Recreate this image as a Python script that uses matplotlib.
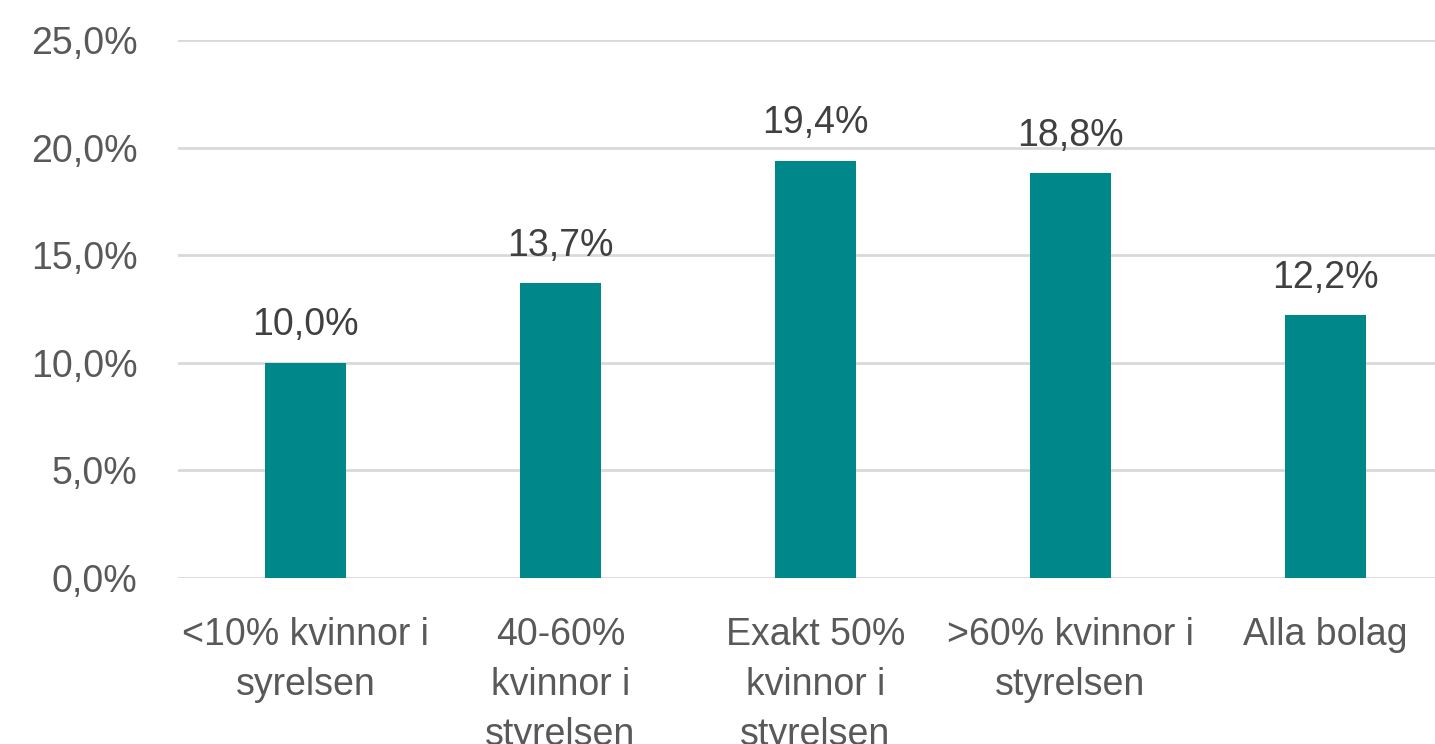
import numpy as np
import matplotlib.pyplot as plt

categories = ['<10% kvinnor i\nsyrelsen', '40-60%\nkvinnor i\nstyrelsen',
              'Exakt 50%\nkvinnor i\nstyrelsen', '>60% kvinnor i\nstyrelsen', 'Alla bolag']
values = [10.0, 13.7, 19.4, 18.8, 12.2]
yticks = [0, 5, 10, 15, 20, 25]

plt.rcParams['font.family'] = ['Liberation Sans', 'DejaVu Sans']

fig = plt.figure(figsize=(14.35, 7.44), dpi=100)
ax = fig.add_axes([178 / 1435, 166 / 744, 1275 / 1435, 538 / 744])

x = np.arange(len(values))
bars = ax.bar(x, values, width=0.315, color='#00878A', zorder=2)

for xi, v in zip(x, values):
    ax.annotate(f'{v:.1f}%'.replace('.', ','), (xi, v), xytext=(0, 14),
                textcoords='offset points', ha='center', va='bottom',
                fontsize=27, color='#404040', zorder=3)

ax.set_xlim(-0.5, len(values) - 0.5)
ax.set_ylim(0, 25)
ax.set_yticks(yticks)
ax.set_yticklabels([f'{t:.1f}%'.replace('.', ',') for t in yticks])
ax.set_xticks(x)
ax.set_xticklabels(categories, linespacing=1.5)
ax.tick_params(axis='y', length=0, pad=29, labelsize=27, labelcolor='#595959')
ax.tick_params(axis='x', length=0, pad=28, labelsize=27, labelcolor='#595959')
ax.grid(axis='y', color='#D9D9D9', linewidth=2, zorder=0)
for s in ax.spines.values():
    s.set_visible(False)

fig.savefig('out.png', dpi=100)
